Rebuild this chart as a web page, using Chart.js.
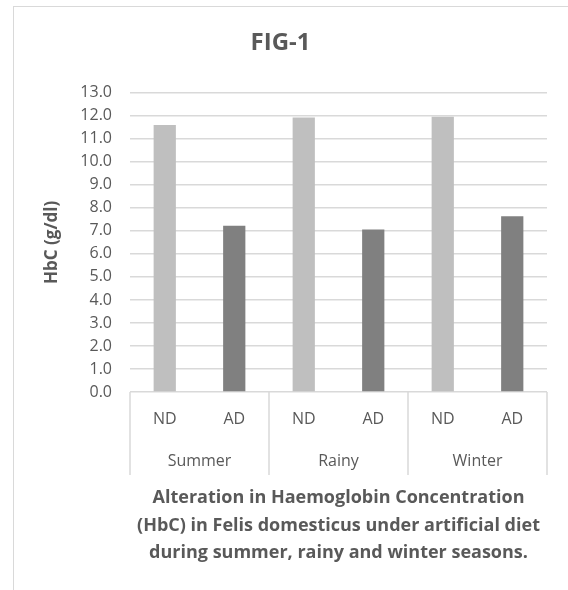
<!DOCTYPE html>
<html>
<head>
<meta charset="utf-8">
<script src="https://cdn.jsdelivr.net/npm/chart.js@4.4.0/dist/chart.umd.min.js"></script>
<style>
html, body { margin: 0; padding: 0; background: #fff; overflow: hidden; }
#frame { position: absolute; left: 13px; top: 6px; width: 600px; height: 600px; border: 1px solid #d9d9d9; }
#wrap { position: absolute; left: 0; top: 0; width: 568px; height: 590px; }
</style>
</head>
<body>
<div id="frame"></div>
<div id="wrap"><canvas id="hbChart"></canvas></div>
<script>
var seasons = ['Summer', 'Rainy', 'Winter'];
var diets = ['ND', 'AD'];
var ndValues = [11.6, 11.93, 11.96];
var adValues = [7.22, 7.06, 7.64];
var dietColors = ['#bfbfbf', '#808080'];
var xTitle = ['Alteration in Haemoglobin Concentration',
              '(HbC) in Felis domesticus under artificial diet',
              'during summer, rainy and winter seasons.'];

var labels = [];
var values = [];
var colors = [];
for (var i = 0; i < seasons.length; i++) {
    labels.push(diets[0], diets[1]);
    values.push(ndValues[i], adValues[i]);
    colors.push(dietColors[0], dietColors[1]);
}

var font = 'Open Sans, sans-serif';
var textColor = '#595959';
var gridColor = '#d9d9d9';

// vertical lines between the season groups under the plot
var seasonDividers = {
    id: 'seasonDividers',
    afterDraw: function(chart) {
        var x = chart.scales.x, x2 = chart.scales.x2, ctx = chart.ctx;
        var step = (x.right - x.left) / seasons.length;
        ctx.save();
        ctx.strokeStyle = gridColor;
        ctx.lineWidth = 1.5;
        for (var i = 0; i <= seasons.length; i++) {
            var px = x.left + i * step;
            ctx.beginPath();
            ctx.moveTo(px, x.top);
            ctx.lineTo(px, x2.top + 39);
            ctx.stroke();
        }
        ctx.restore();
    }
};

var ctx = document.getElementById('hbChart').getContext('2d');
var hbChart = new Chart(ctx, {
    type: 'bar',
    data: {
        labels: labels,
        datasets: [{
            label: 'HbC',
            data: values,
            backgroundColor: colors,
            categoryPercentage: 1,
            barPercentage: 0.32
        }]
    },
    options: {
        responsive: true,
        maintainAspectRatio: false,
        animation: false,
        layout: { padding: { left: 14, right: 21, top: 12, bottom: 23 } },
        plugins: {
            legend: { display: false },
            tooltip: { enabled: false },
            title: {
                display: true,
                text: 'FIG-1',
                color: textColor,
                font: { family: font, size: 24, weight: 'bold' },
                padding: { top: 17, bottom: 35 }
            }
        },
        scales: {
            y: {
                min: 0,
                max: 13,
                ticks: {
                    stepSize: 1,
                    color: textColor,
                    padding: 18,
                    font: { family: font, size: 16 },
                    callback: function(v) { return Number(v).toFixed(1); }
                },
                grid: { color: gridColor, lineWidth: 1.5, drawTicks: false },
                border: { display: false },
                title: {
                    display: true,
                    text: 'HbC (g/dl)',
                    color: textColor,
                    font: { family: font, size: 17, weight: 'bold' },
                    padding: { top: 28, bottom: 0 }
                },
                afterFit: function(scale) { scale.width = 116; }
            },
            x: {
                position: 'bottom',
                weight: 0,
                grid: { display: false, drawTicks: false },
                border: { display: false },
                ticks: {
                    color: textColor,
                    padding: 18,
                    font: { family: font, size: 16 }
                },
                afterFit: function(scale) { scale.height = 44; }
            },
            x2: {
                type: 'category',
                position: 'bottom',
                weight: 1,
                labels: seasons,
                grid: { display: false, drawTicks: false },
                border: { display: false },
                ticks: {
                    color: textColor,
                    padding: 16,
                    font: { family: font, size: 16 }
                },
                title: {
                    display: true,
                    text: xTitle,
                    color: textColor,
                    font: { family: font, size: 18, weight: 'bold', lineHeight: 1.53 },
                    padding: { top: 0, bottom: 0 }
                },
                afterFit: function(scale) { scale.height = 131; }
            }
        }
    },
    plugins: [seasonDividers]
});
</script>
</body>
</html>
